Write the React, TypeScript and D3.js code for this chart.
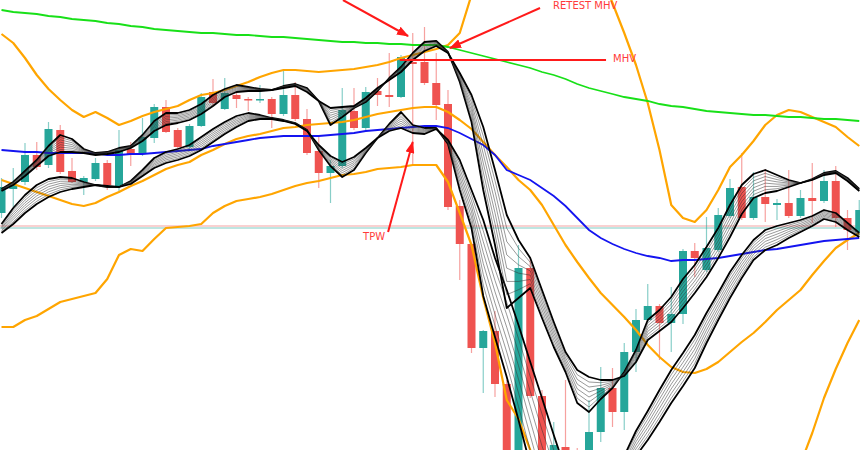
import React, { useEffect, useRef } from 'react';
import * as d3 from 'd3';

const W = 860;
const H = 450;

// Candles (price units)
const opens = [287,311,318,345,335,370,329,318,321,337, 314,351,346,362,393,370,353,374,408,391, 405,401,400,401,386,405,381,349,327,334, 389,372,409,405,403,438,438,417,396,294, 256,152,169,116,40,232,104,40,53,45, 42,68,112,88,148,180,194,177,186,249, 230,250,284,313,282,303,295,297,284,302, 299,319,282,268];
const highs = [322,332,357,358,378,375,342,324,342,340, 370,358,382,396,400,372,376,407,421,422, 408,403,415,403,429,418,391,365,340,412, 412,413,422,447,445,467,473,447,410,300, 257,170,189,120,255,243,110,78,120,52, 100,133,132,157,191,216,196,213,251,257, 283,292,321,347,328,331,301,330,310,337, 330,334,290,300];
const lows = [282,293,315,330,332,326,317,305,319,310, 307,334,344,357,367,351,351,373,394,390, 392,389,397,372,384,379,345,312,297,332, 370,370,394,393,402,335,415,380,290,220, 147,107,103,30,30,102,40,35,35,25, 40,58,73,70,128,178,140,148,176,223, 228,248,282,280,280,278,280,282,282,277, 297,273,250,265];
const closes = [313,315,345,333,371,328,318,322,337,315, 350,346,363,393,368,353,374,403,397,407, 401,400,401,386,405,381,347,327,334,390, 372,408,405,403,443,436,417,395,293,256, 152,169,116,40,232,104,45,55,40,30, 68,112,88,148,180,194,177,186,249,242, 252,285,312,282,303,296,297,284,302,299, 319,282,270,290];

// Ribbon B (upper ribbon): fast and slow edges
const ribbonBFast = [311,318,329,340,354,365,361,351,347,348, 352,354,365,379,387,387,390,396,405,411, 415,413,411,410,414,416,412,399,375,383, 392,398,409,422,433,447,458,459,448,418, 378,310,255,192,202,212,182,153,128,97, 88,101,112,128,150,180,190,203,221,235, 253,272,295,315,326,330,325,320,317,321, 327,329,322,311];
const ribbonBSlow = [309,315,324,334,344,348,348,347,345,346, 348,352,359,369,375,377,380,386,394,403, 408,409,409,410,412,414,408,399,392,393, 394,402,412,420,428,440,449,454,447,427, 405,373,330,285,260,242,210,178,148,130, 123,120,120,124,138,160,169,178,192,207, 223,242,263,286,302,307,309,313,317,320, 325,327,319,309];
// Ribbon A (lower ribbon)
const ribbonAFast = [276,292,305,315,321,323,322,318,315,313, 313,319,330,342,348,351,355,363,371,378, 384,387,385,382,380,377,370,350,334,323, 330,347,362,376,388,375,372,372,356,310, 272,204,163,123,80,35,-10,-40,-55,-60, -55,-30,5,44,69,89,110,130,147,165, 187,207,228,245,260,270,274,277,280,284, 290,287,277,267];
const ribbonASlow = [267,276,287,296,303,308,311,313,315,314, 313,316,324,332,337,340,344,350,358,366, 373,379,381,381,379,376,369,355,344,338, 343,352,362,369,372,367,366,371,360,340, 310,280,242,210,175,138,102,65,30,5, -10,-10,5,25,44,60,78,97,114,132, 157,180,202,222,240,250,255,262,268,274, 281,278,270,263];

// Bollinger bands
const bandUpper = [466,457,442,425,411,400,390,383,388,382, 375,379,384,388,391,394,400,405,407,410, 414,418,423,427,430,430,429,428,429,430, 431,433,435,438,442,445,448,451,455,467, 505,525,550,570,580,585,585,580,575,565, 550,525,497,467,435,397,350,295,282,278, 290,310,333,345,359,375,385,390,388,383, 378,373,363,354];
const bandMiddle = [320,316,312,308,304,300,296,294,297,303, 308,314,319,325,331,335,338,345,350,356, 361,364,366,369,372,373,375,376,377,378, 380,383,386,388,390,392,393,393,388,380, 371,358,345,333,320,310,295,275,255,238, 222,207,195,183,170,155,143,133,128,127, 131,138,148,158,167,178,190,200,210,225, 239,252,260,267];
const bandLower = [173,173,180,184,191,198,201,204,207,221, 245,251,249,261,272,273,274,276,287,294, 299,301,303,306,310,314,317,319,322,325, 326,328,331,332,333,335,335,335,318,287, 255,202,157,100,81,50,30,-10,-40,-70, -100,-120,-105,-100,-100,-90,-64,-31,-26,-24, -30,-36,-37,-29,-26,-19,1,10,36,67, 102,131,157,180];

// Moving averages
const greenMA = [490,488,487,486,484,483,481,480,479,477, 476,474,473,471,470,469,468,467,467,466, 465,465,464,463,463,462,461,460,459,458, 458,457,457,456,456,455,455,455,453,450, 447,444,441,438,435,432,428,425,421,416, 412,409,406,403,401,399,396,394,393,391, 389,388,387,386,385,385,384,383,383,382, 381,381,380,379];
const blueMA = [350,349,348,348,347,347,347,347,347,345, 345,346,346,347,348,349,350,351,354,356, 358,360,362,363,364,364,364,364,365,366, 367,369,370,371,372,373,374,374,372,367, 361,355,345,330,325,320,312,304,294,282, 270,262,256,251,247,244,242,239,240,240, 241,242,244,246,248,250,251,253,255,257, 259,260,261,262];

// Horizontal levels
const levelPink = 274;
const levelTeal = 272;

// Annotations (candle index, price)
const mhvLevel = { from: 33.9, to: 51.45, price: 440 };
const arrows = [
  { x1: 29.06, p1: 500, x2: 34.6, p2: 464 },
  { x1: 45.83, p1: 492, x2: 38.17, p2: 452 },
  { x1: 32.9, p1: 268, x2: 35.0, p2: 358 },
];
const labels = [
  { text: 'RETEST MHV', x: 46.94, price: 491 },
  { text: 'MHV', x: 52.05, price: 438 },
  { text: 'TPW', x: 30.77, price: 260 },
];

const TEAL = '#26a69a';
const RED = '#ef5350';

export default function App() {
  const ref = useRef<SVGSVGElement>(null);

  useEffect(() => {
    const svg = d3.select(ref.current);
    svg.selectAll('*').remove();
    const n = opens.length;
    const x = d3.scaleLinear().domain([0, n - 1]).range([1.5, 859.25]);
    const y = d3.scaleLinear().domain([50, 500]).range([H, 0]);

    svg.append('rect').attr('width', W).attr('height', H).attr('fill', '#fff');

    const defs = svg.append('defs');
    defs.append('marker')
      .attr('id', 'ah')
      .attr('viewBox', '0 0 12 9')
      .attr('refX', 11)
      .attr('refY', 4.5)
      .attr('markerWidth', 6)
      .attr('markerHeight', 4.5)
      .attr('orient', 'auto')
      .append('path')
      .attr('d', 'M0,0 L12,4.5 L0,9 z')
      .attr('fill', '#ff1a1a');

    // Horizontal levels
    svg.append('line').attr('x1', 0).attr('x2', W)
      .attr('y1', y(levelPink)).attr('y2', y(levelPink))
      .attr('stroke', '#f4a3a3').attr('stroke-width', 1.2);
    svg.append('line').attr('x1', 0).attr('x2', W)
      .attr('y1', y(levelTeal)).attr('y2', y(levelTeal))
      .attr('stroke', '#7fcbc4').attr('stroke-width', 1.2);

    // Candles
    const idx = d3.range(n);
    const cg = svg.append('g');
    cg.selectAll('line.wick').data(idx).join('line')
      .attr('x1', (i) => x(i)).attr('x2', (i) => x(i))
      .attr('y1', (i) => y(highs[i])).attr('y2', (i) => y(lows[i]))
      .attr('stroke', (i) => (closes[i] >= opens[i] ? TEAL : RED))
      .attr('stroke-opacity', 0.55)
      .attr('stroke-width', 1.2);
    cg.selectAll('rect.body').data(idx).join('rect')
      .attr('x', (i) => x(i) - 4)
      .attr('width', 8)
      .attr('y', (i) => y(Math.max(opens[i], closes[i])))
      .attr('height', (i) => Math.max(1.5, Math.abs(y(opens[i]) - y(closes[i]))))
      .attr('fill', (i) => (closes[i] >= opens[i] ? TEAL : RED));

    const line = (arr: number[]) =>
      d3.line<number>().x((_, i) => x(i)).y((v) => y(v))(arr) as string;

    // Bollinger bands
    [bandUpper, bandMiddle, bandLower].forEach((arr) => {
      svg.append('path').attr('d', line(arr)).attr('fill', 'none')
        .attr('stroke', '#ffa500').attr('stroke-width', 2.2)
        .attr('stroke-linejoin', 'round');
    });

    // MAs
    svg.append('path').attr('d', line(greenMA)).attr('fill', 'none')
      .attr('stroke', '#18e018').attr('stroke-width', 1.8);
    svg.append('path').attr('d', line(blueMA)).attr('fill', 'none')
      .attr('stroke', '#1414f0').attr('stroke-width', 1.8);

    // Ribbons: thick fast/slow edges with thin hatching lines between them
    const ribbons = [
      [ribbonAFast, ribbonASlow],
      [ribbonBFast, ribbonBSlow],
    ];
    const steps = 7;
    ribbons.forEach(([fast, slow]) => {
      for (let k = 0; k <= steps; k++) {
        const t = k / steps;
        const vals = fast.map((v, i) => d3.interpolateNumber(v, slow[i])(t));
        const edge = k === 0 || k === steps;
        svg.append('path').attr('d', line(vals)).attr('fill', 'none')
          .attr('stroke', edge ? '#000' : '#333')
          .attr('stroke-width', edge ? 1.8 : 0.5)
          .attr('stroke-linejoin', 'round');
      }
    });

    // Annotations
    svg.append('line')
      .attr('x1', x(mhvLevel.from)).attr('x2', x(mhvLevel.to))
      .attr('y1', y(mhvLevel.price)).attr('y2', y(mhvLevel.price))
      .attr('stroke', '#ff1a1a').attr('stroke-width', 2);

    arrows.forEach((a) => {
      svg.append('line')
        .attr('x1', x(a.x1)).attr('y1', y(a.p1))
        .attr('x2', x(a.x2)).attr('y2', y(a.p2))
        .attr('stroke', '#ff1a1a').attr('stroke-width', 2)
        .attr('marker-end', 'url(#ah)');
    });

    labels.forEach((l) => {
      svg.append('text')
        .attr('x', x(l.x)).attr('y', y(l.price))
        .attr('fill', '#ff3b3b')
        .attr('font-family', '"DejaVu Sans", sans-serif')
        .attr('font-size', 10)
        .text(l.text);
    });
  }, []);

  return (
    <svg
      ref={ref}
      width={W}
      height={H}
      style={{ position: 'absolute', left: 0, top: 0, display: 'block' }}
    />
  );
}
